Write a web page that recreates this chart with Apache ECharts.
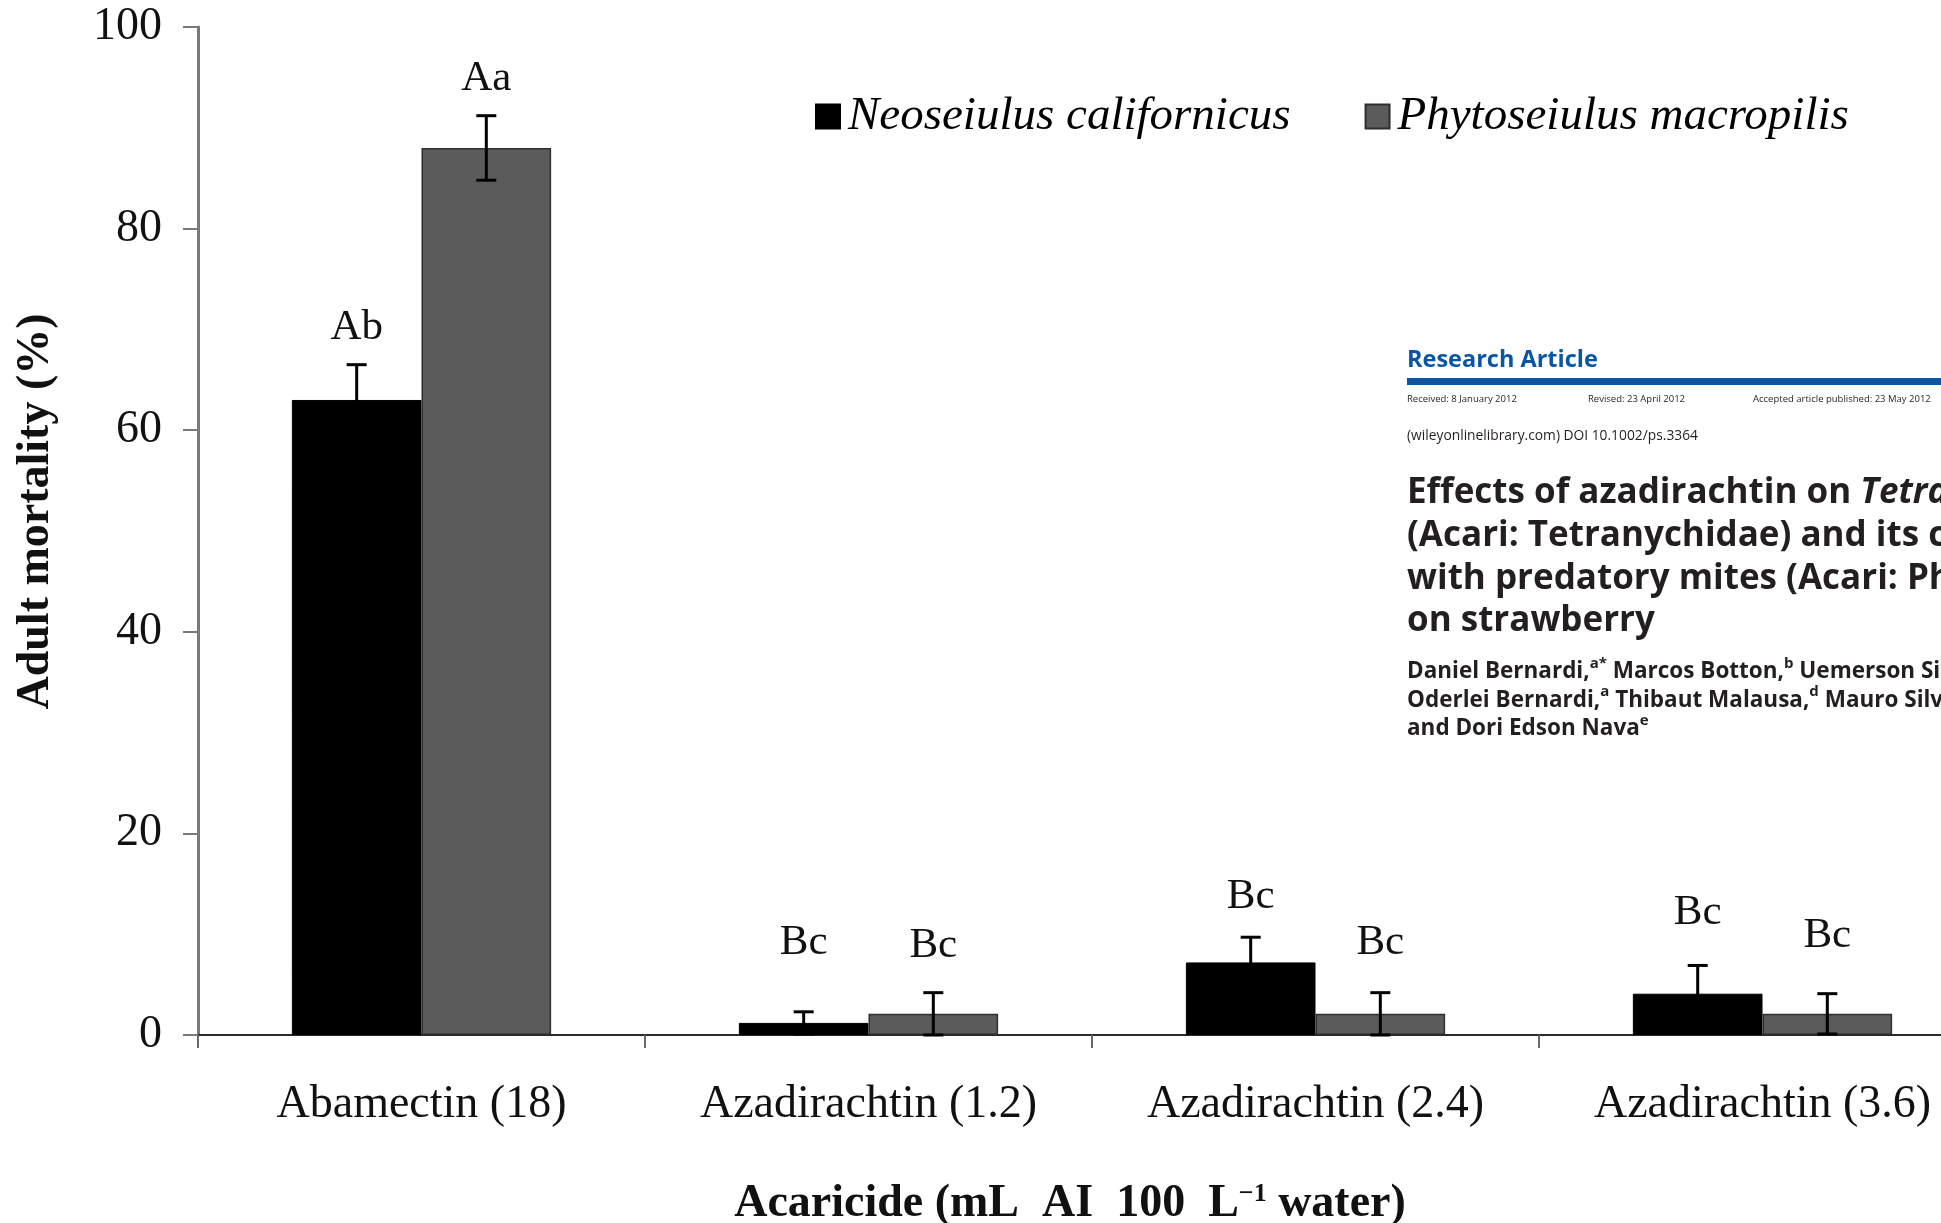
<!DOCTYPE html>
<html>
<head>
<meta charset="utf-8">
<title>Adult mortality of predatory mites</title>
<script src="https://cdn.jsdelivr.net/npm/echarts@6/dist/echarts.min.js"></script>
<style>
  html, body { margin: 0; padding: 0; background: #ffffff; }
  #chart { width: 1941px; height: 1223px; }
</style>
</head>
<body>
<div id="chart"></div>
<script>
// ---- data ----
const categories = ['Abamectin (18)', 'Azadirachtin (1.2)', 'Azadirachtin (2.4)', 'Azadirachtin (3.6)'];
const seriesNames = ['Neoseiulus californicus', 'Phytoseiulus macropilis'];

const neoseiulusMean = [63.0, 1.2, 7.2, 4.1];
const neoseiulusErr = [3.5, 1.1, 2.5, 2.8];
const phytoseiulusMean = [88.0, 2.1, 2.1, 2.1];
const phytoseiulusErr = [3.2, 2.1, 2.1, 2.0];

// significance letters and the mortality level each one is centred on
const neoseiulusLetters = ['Ab', 'Bc', 'Bc', 'Bc'];
const phytoseiulusLetters = ['Aa', 'Bc', 'Bc', 'Bc'];
const neoseiulusLetterAt = [70.2, 9.2, 13.7, 12.1];
const phytoseiulusLetterAt = [94.9, 8.9, 9.2, 9.9];

const yMin = 0, yMax = 100, yStep = 20;

// ---- styles ----
const SERIF = '"Liberation Serif", "Times New Roman", serif';
const SANS = '"Open Sans", "Noto Sans", sans-serif';
const CAT_GAP = 0.42;
const COLORS = ['#000000', '#5b5b5b'];

function errorBars(means, errs, letters, letterAt, side) {
  return {
    type: 'custom',
    z: 4,
    silent: true,
    data: means.map((m, i) => [i, m, errs[i]]),
    renderItem(params, api) {
      const i = params.dataIndex;
      const cat = api.value(0);
      const mean = api.value(1);
      const err = api.value(2);
      const band = api.size([1, 0])[0];
      const barW = band * (1 - CAT_GAP) / 2;
      const x = api.coord([cat, mean])[0] + side * barW / 2;
      const yHi = api.coord([cat, mean + err])[1];
      const yLo = api.coord([cat, Math.max(0, mean - err)])[1];
      const yTxt = api.coord([cat, letterAt[i]])[1];
      const cap = 10;
      const st = { stroke: '#000', lineWidth: 3 };
      return {
        type: 'group',
        children: [
          { type: 'line', shape: { x1: x, y1: yHi, x2: x, y2: yLo }, style: st },
          { type: 'line', shape: { x1: x - cap, y1: yHi, x2: x + cap, y2: yHi }, style: st },
          { type: 'line', shape: { x1: x - cap, y1: yLo, x2: x + cap, y2: yLo }, style: st },
          {
            type: 'text', x: x, y: yTxt,
            style: {
              text: letters[i], fontFamily: SERIF, fontSize: 43, fill: '#111',
              align: 'center', verticalAlign: 'middle'
            }
          }
        ]
      };
    }
  };
}

// header block of the article shown on the right
const INK = '#231f20';
const hx = 1407;
function hText(text, y, size, weight, extra) {
  return {
    type: 'text', x: hx, y: y, z: 10,
    style: Object.assign({
      text: text, fontFamily: SANS, fontSize: size, fontWeight: weight,
      fill: INK, align: 'left', verticalAlign: 'middle'
    }, extra || {})
  };
}
const authorRich = {
  s: { fontFamily: SANS, fontSize: 15, fontWeight: 'bold', fill: INK, verticalAlign: 'top', lineHeight: 15 }
};

const header = [
  hText('Research Article', 360, 23.5, 'bold', { fill: '#0a56a5' }),
  { type: 'rect', z: 10, shape: { x: hx, y: 378, width: 1941 - hx, height: 7 }, style: { fill: '#0a56a5' } },
  hText('Received: 8 January 2012', 399, 9.5, 'normal'),
  Object.assign(hText('Revised: 23 April 2012', 399, 9.5, 'normal'), { x: 1588 }),
  Object.assign(hText('Accepted article published: 23 May 2012', 399, 9.5, 'normal'), { x: 1753 }),
  hText('(wileyonlinelibrary.com) DOI 10.1002/ps.3364', 436, 13.8, 'normal'),
  hText('Effects of azadirachtin on {i|Tetranychus}', 493, 35, 'bold', {
    rich: { i: { fontFamily: SANS, fontSize: 35, fontWeight: 'bold', fontStyle: 'italic', fill: INK } }
  }),
  hText('(Acari: Tetranychidae) and its compatibility', 536, 35, 'bold'),
  hText('with predatory mites (Acari: Phytoseiidae)', 579, 35, 'bold'),
  hText('on strawberry', 621, 35, 'bold'),
  hText('Daniel Bernardi,{s|a*} Marcos Botton,{s|b} Uemerson Silva', 672, 22.5, 'bold', { rich: authorRich, lineHeight: 32 }),
  hText('Oderlei Bernardi,{s|a} Thibaut Malausa,{s|d} Mauro Silveira', 700.5, 22.5, 'bold', { rich: authorRich, lineHeight: 32 }),
  hText('and Dori Edson Nava{s|e}', 729, 22.5, 'bold', { rich: authorRich, lineHeight: 32 })
];

const chart = echarts.init(document.getElementById('chart'), null, { renderer: 'canvas', width: 1941, height: 1223 });

chart.setOption({
  backgroundColor: '#ffffff',
  animation: false,
  grid: { left: 198, top: 27, width: 1788, height: 1008, containLabel: false, outerBoundsMode: 'none' },
  legend: {
    data: seriesNames,
    left: 815, top: 93, padding: 0,
    itemWidth: 24, itemHeight: 24, itemGap: 74,
    icon: 'rect',
    textStyle: { fontFamily: SERIF, fontStyle: 'italic', fontSize: 47, color: '#000', padding: [0, 0, 0, 3] }
  },
  xAxis: {
    type: 'category',
    data: categories,
    axisLine: { show: true, lineStyle: { color: '#2a2a2a', width: 2 } },
    axisTick: { show: true, length: 13, lineStyle: { color: '#6a6a6a', width: 2 } },
    axisLabel: { interval: 0, margin: 47, fontFamily: SERIF, fontSize: 46, color: '#111' },
    splitLine: { show: false },
    name: 'Acaricide (mL  AI  100  L{sup|−1} water)',
    nameLocation: 'middle',
    nameGap: 146,
    nameTextStyle: {
      fontFamily: SERIF, fontWeight: 'bold', fontSize: 46, color: '#111',
      padding: [0, 44, 0, 0],
      rich: { sup: { fontFamily: SERIF, fontWeight: 'bold', fontSize: 26, color: '#111', verticalAlign: 'top', lineHeight: 26 } }
    }
  },
  yAxis: {
    type: 'value',
    min: yMin, max: yMax, interval: yStep,
    axisLine: { show: true, lineStyle: { color: '#7a7a7a', width: 3 } },
    axisTick: { show: true, length: 15, lineStyle: { color: '#7a7a7a', width: 2 } },
    axisLabel: { margin: 36, fontFamily: SERIF, fontSize: 46, color: '#111' },
    splitLine: { show: false },
    name: 'Adult mortality (%)',
    nameLocation: 'middle',
    nameGap: 139,
    nameTextStyle: { fontFamily: SERIF, fontWeight: 'bold', fontSize: 46, color: '#111', padding: [0, 0, 0, 39] }
  },
  series: [
    {
      name: seriesNames[0], type: 'bar',
      data: neoseiulusMean,
      barGap: '0%', barCategoryGap: (CAT_GAP * 100) + '%',
      itemStyle: { color: COLORS[0], borderColor: '#000', borderWidth: 1 }
    },
    {
      name: seriesNames[1], type: 'bar',
      data: phytoseiulusMean,
      barGap: '0%', barCategoryGap: (CAT_GAP * 100) + '%',
      itemStyle: { color: COLORS[1], borderColor: '#2e2e2e', borderWidth: 1.5 }
    },
    errorBars(neoseiulusMean, neoseiulusErr, neoseiulusLetters, neoseiulusLetterAt, -1),
    errorBars(phytoseiulusMean, phytoseiulusErr, phytoseiulusLetters, phytoseiulusLetterAt, 1)
  ],
  graphic: header
});
</script>
</body>
</html>
